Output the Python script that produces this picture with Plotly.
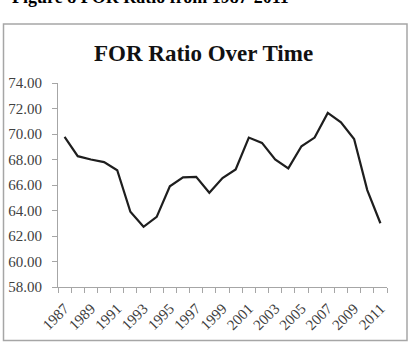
import plotly.graph_objects as go

years = list(range(1987, 2012))
ratio = [69.77, 68.26, 68.0, 67.8, 67.16, 63.9, 62.72, 63.5, 65.9, 66.6, 66.64, 65.39,
         66.55, 67.22, 69.72, 69.3, 68.0, 67.3, 69.04, 69.72, 71.65, 70.92, 69.6, 65.6, 63.0]
ytick_vals = [58, 60, 62, 64, 66, 68, 70, 72, 74]
xtick_vals = list(range(1987, 2012, 2))

W, H = 413, 342
L, R, T, B = 58, 26, 83, 55
pw, ph = W - L - R, H - T - B

def px_to_paper_x(px):
    return (px - L) / pw

def px_to_paper_y(py):
    return (H - B - py) / ph

fig = go.Figure()
fig.add_trace(go.Scatter(x=years, y=ratio, mode="lines",
                         line=dict(color="#1e1e1e", width=2.2), hoverinfo="skip"))

fig.update_layout(
    width=W, height=H, margin=dict(l=L, r=R, t=T, b=B, autoexpand=False),
    paper_bgcolor="white", plot_bgcolor="white", showlegend=False,
    font=dict(family="Liberation Serif", color="#404040", size=14),
)
fig.update_xaxes(
    range=[1986.5, 2011.5], tickmode="array", tickvals=xtick_vals, automargin=False,
    ticktext=[str(v) for v in xtick_vals], tickangle=-45, ticks="",
    showline=True, linecolor="#a6a6a6", linewidth=1, showgrid=False, zeroline=False,
    tickfont=dict(family="Liberation Serif", size=15, color="#404040"), ticklabelstandoff=6,
    minor=dict(tickmode="linear", tick0=1986.5, dtick=1, ticks="outside",
               ticklen=5, tickcolor="#a6a6a6", showgrid=False),
)
fig.update_yaxes(
    range=[58, 74], tickmode="array", tickvals=ytick_vals, automargin=False,
    ticktext=[f"{v:.2f}" for v in ytick_vals], ticks="outside", ticklen=5,
    tickcolor="#a6a6a6", showline=True, linecolor="#a6a6a6", linewidth=1,
    showgrid=False, zeroline=False,
    tickfont=dict(family="Liberation Serif", size=15, color="#404040"), ticklabelstandoff=7,
)

# chart border box
fig.add_shape(type="rect", xref="paper", yref="paper",
              x0=px_to_paper_x(3.5), x1=px_to_paper_x(407), y0=px_to_paper_y(340.5), y1=px_to_paper_y(24),
              line=dict(color="#a6a6a6", width=1.5), fillcolor="rgba(0,0,0,0)", layer="below")

# chart title
fig.add_annotation(text="<b>FOR Ratio Over Time</b>", xref="paper", yref="paper",
                   x=px_to_paper_x(203), y=px_to_paper_y(53), xanchor="center", yanchor="middle",
                   showarrow=False, font=dict(family="Liberation Serif", size=23, color="#111111"))

# figure caption (cut off at top)
fig.add_annotation(text="<b>Figure 8 FOR Ratio from 1987-2011</b>", xref="paper", yref="paper",
                   x=px_to_paper_x(10), y=px_to_paper_y(9), xanchor="left", yanchor="bottom",
                   showarrow=False, font=dict(family="Liberation Serif", size=18, color="#000000"))

fig.write_html("out.html")
